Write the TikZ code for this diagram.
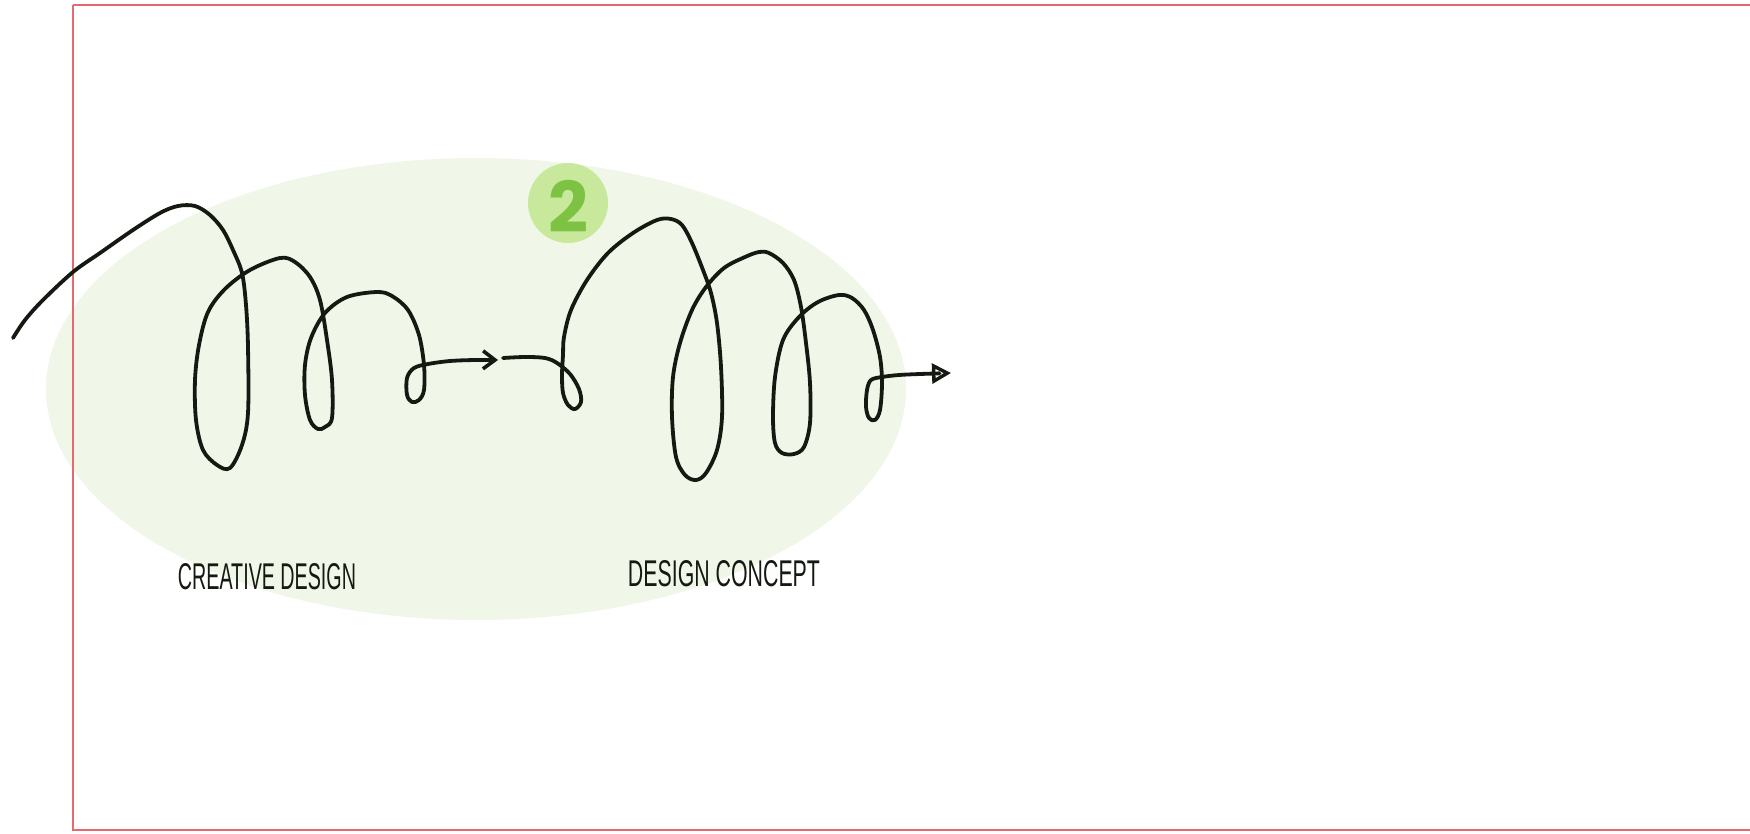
\documentclass[tikz,border=0pt]{standalone}
\usepackage{fontspec}
\usetikzlibrary{arrows.meta}
\newfontfamily\numfont{Poppins}
\newfontfamily\handfont{Liberation Sans}
\definecolor{blobgreen}{HTML}{F0F7E8}
\definecolor{badgebg}{HTML}{C8E99C}
\definecolor{badgefg}{HTML}{7DC243}
\definecolor{frame}{HTML}{E36B70}
\definecolor{ink}{HTML}{141A12}
\tikzset{
  scribble/.style={draw=ink, line width=3.8pt, line cap=round, line join=round},
  lbl/.style={inner sep=0pt, text=ink, font=\handfont},
}
\begin{document}
\begin{tikzpicture}[x=1pt,y=-1pt]
\useasboundingbox (0,0) rectangle (1750,833);
\clip (0,0) rectangle (1750,833);
\fill[white] (0,0) rectangle (1750,833);
% green blob
\fill[blobgreen] (476,389) ellipse [x radius=430, y radius=231];
% red frame
\draw[frame, line width=2pt] (73,5) -- (1800,5) (73,5) -- (73,830) -- (1800,830);
% badge
\node[circle, fill=badgebg, minimum size=80pt, inner sep=0pt] (badge) at (568,203) {};
\node[text=badgefg, font=\numfont\bfseries\fontsize{70}{70}\selectfont, inner sep=0pt] (two) at (568,206) {2};
% first scribble
\draw[scribble, -{Straight Barb[length=12pt,width=18pt,line width=3.6pt]}]
  plot[smooth, tension=0.55] coordinates {
  (13,338) (25,320) (43,300) (73,272) (100,253) (133,230) (160,213) (178,206) (195,206) (210,215) (223,230) (233,250) (242,273) (246,305) (248,347) (248,413) (242,445) (230,468) (217,465) (203,450) (196,420) (195,380) (199,345) (208,312) (225,289) (250,270) (280,258) (295,262) (310,277) (320,300) (327,340) (332,380) (332,418) (325,427) (318,429) (310,420) (305,395) (305,365) (311,338) (325,313) (347,297) (377,292) (392,296) (408,310) (419,335) (424,365) (424,390) (419,400) (412,402) (407,395) (407,378) (414,368) (428,364) (450,361) (475,360) (498,360)};
% second scribble
\draw[scribble, -{Triangle[open,length=19pt,width=20pt,line width=3.4pt]}]
  plot[smooth, tension=0.55] coordinates {
  (503,358) (525,357) (545,358) (557,363) (570,374) (579,389) (581,402) (575,409) (568,405) (563,393) (562,375) (563,355) (564,337) (571,310) (587,280) (608,253) (633,233) (657,220) (671,219) (682,225) (692,243) (703,270) (711,293) (717,323) (721,367) (722,417) (717,450) (706,473) (696,480) (685,475) (676,457) (672,417) (673,377) (680,343) (692,310) (706,287) (724,268) (745,257) (759,252) (769,253) (783,263) (794,280) (801,307) (806,343) (810,383) (810,423) (804,447) (794,454) (782,453) (775,443) (773,417) (775,377) (783,340) (799,317) (818,302) (839,295) (852,298) (864,310) (873,330) (880,357) (882,383) (880,410) (875,420) (869,418) (866,407) (867,390) (871,380) (882,377) (899,375) (920,374) (951,373)};
% labels
\node[lbl] (creative) at (267,577) {\resizebox{178pt}{26pt}{CREATIVE DESIGN}};
\node[lbl] (concept) at (724,574) {\resizebox{192pt}{26pt}{DESIGN CONCEPT}};
\end{tikzpicture}
\end{document}
